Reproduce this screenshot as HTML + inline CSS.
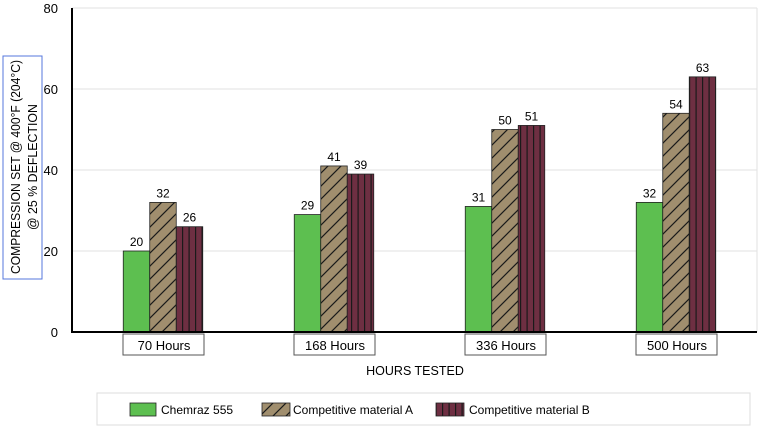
<!DOCTYPE html>
<html><head><meta charset="utf-8"><style>
body{margin:0;background:#fff;font-family:"Liberation Sans",sans-serif;}
svg text{font-family:"Liberation Sans",sans-serif;}
</style></head><body>
<svg width="765" height="442" viewBox="0 0 765 442">
<defs>
<pattern id="hatchA" patternUnits="userSpaceOnUse" width="13" height="13">
<rect width="13" height="13" fill="#a08e6e"/>
<path d="M-2,15 L15,-2 M-2,2 L2,-2 M11,15 L15,11" stroke="#1a1a1a" stroke-width="1.2"/>
</pattern>
<pattern id="hatchB" patternUnits="userSpaceOnUse" width="6.5" height="10">
<rect width="6.5" height="10" fill="#6e2f42"/>
<line x1="0.6" y1="0" x2="0.6" y2="10" stroke="#1a1a1a" stroke-width="1.2"/>
</pattern>
</defs>
<g id="grid"></g>
<g id="bars"></g>
<g id="axes"></g>
<g>
<rect x="3" y="56" width="39" height="223" fill="none" stroke="#5577dd" stroke-width="1"/>
<text transform="translate(20,167) rotate(-90)" text-anchor="middle" font-size="13" textLength="214" lengthAdjust="spacingAndGlyphs">COMPRESSION SET @ 400°F (204°C)</text>
<text transform="translate(37,167) rotate(-90)" text-anchor="middle" font-size="13" textLength="126" lengthAdjust="spacingAndGlyphs">@ 25 % DEFLECTION</text>
</g>
<text x="415" y="375" text-anchor="middle" font-size="12.5">HOURS TESTED</text>
<g>
<rect x="97" y="393" width="653" height="32" fill="#fff" stroke="#ddd"/>
<g><rect x="130" y="403" width="26" height="13" fill="#5dbf50" stroke="#222" stroke-width="0.8"/><text x="161" y="414" font-size="12">Chemraz 555</text></g>
<g><rect x="262" y="403" width="28" height="13" fill="url(#hatchA)" stroke="#222" stroke-width="0.8"/><text x="293" y="414" font-size="12">Competitive material A</text></g>
<g><rect x="436" y="403" width="28" height="13" fill="url(#hatchB)" stroke="#222" stroke-width="0.8"/><text x="469" y="414" font-size="12">Competitive material B</text></g>
</g>
</svg>
<script>
const categories=["70 Hours","168 Hours","336 Hours","500 Hours"];
const chemraz=[20,29,31,32];
const materialA=[32,41,50,54];
const materialB=[26,39,51,63];
const yTicks=[0,20,40,60,80];
const NS="http://www.w3.org/2000/svg";
const y0=332,yTop=8,yMax=80,xL=72,xR=757;
function yS(v){return y0-(v/yMax)*(y0-yTop);}
function xC(i){return 163+i*171;}
function mk(tag,attrs,parent){const e=document.createElementNS(NS,tag);for(const k in attrs)e.setAttribute(k,attrs[k]);parent.appendChild(e);return e;}
const grid=document.getElementById('grid'),bars=document.getElementById('bars'),axes=document.getElementById('axes');
yTicks.forEach(t=>{
 if(t>0){const l=mk('line',{x1:xL,x2:xR,y1:yS(t),y2:yS(t),stroke:'#e2e2e2','stroke-width':1},grid);
 
 }
 const tx=mk('text',{x:58,y:yS(t)+5,'text-anchor':'end','font-size':13},axes);tx.textContent=t;
 
 
});
mk('line',{x1:xR,x2:xR,y1:yTop,y2:y0,stroke:'#e2e2e2'},grid);
const series=[[chemraz,'#5dbf50','chemraz'],[materialA,'url(#hatchA)','material-a'],[materialB,'url(#hatchB)','material-b']];
const bw=26.5;
categories.forEach((c,i)=>{
 series.forEach((s,j)=>{
  const v=s[0][i],x=xC(i)-1.5*bw+j*bw;
  const r=mk('rect',{x:x,y:yS(v),width:bw,height:y0-yS(v),fill:s[1],stroke:'#222','stroke-width':0.8},bars);
  
  
  const t=mk('text',{x:x+bw/2,y:yS(v)-5,'text-anchor':'middle','font-size':12},bars);t.textContent=v;
  
  
 });
 const g=mk('g',{},axes);
 
 
 mk('rect',{x:xC(i)-40,y:334,width:81,height:21,fill:'#fff',stroke:'#555','stroke-width':1},g);
 const t=mk('text',{x:xC(i)+1,y:350,'text-anchor':'middle','font-size':13},g);t.textContent=c;
});
mk('line',{x1:xL,x2:xL,y1:yTop,y2:y0+1,stroke:'#000','stroke-width':2},axes);
mk('line',{x1:xL,x2:xR,y1:y0,y2:y0,stroke:'#000','stroke-width':2},axes);
</script>
</body></html>
